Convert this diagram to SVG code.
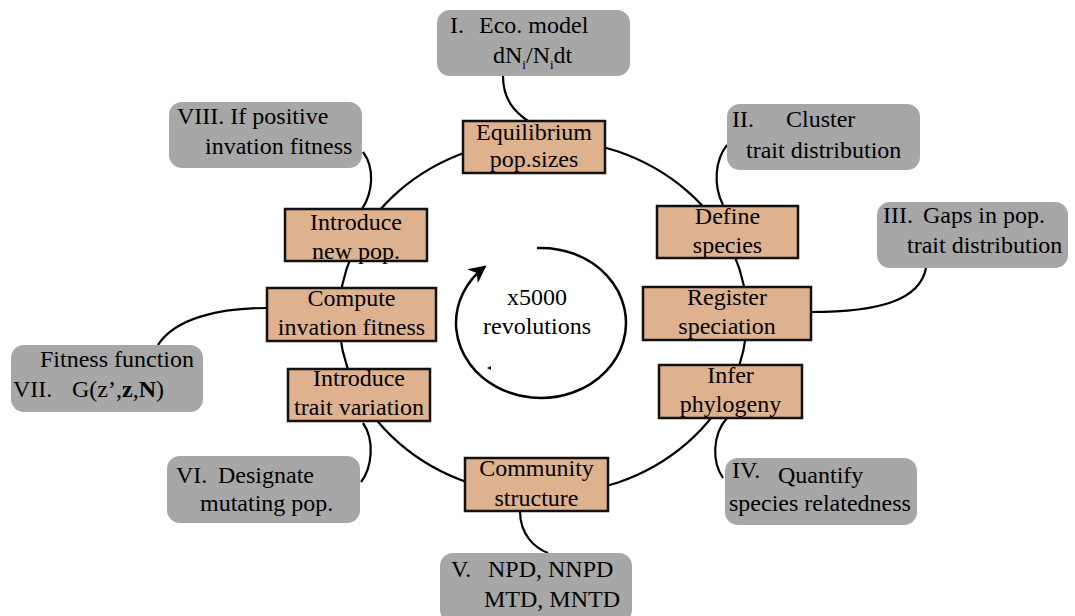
<svg xmlns="http://www.w3.org/2000/svg" width="1075" height="616" viewBox="0 0 1075 616">
<defs>
<style>
text{font-family:"Liberation Serif","Times New Roman",serif;font-size:24px;fill:#000}
.c{text-anchor:middle}
.step{fill:#deb18f;stroke:#111;stroke-width:2.5}
.note{fill:#a7a7a7;stroke:none}
.link{fill:none;stroke:#000;stroke-width:2.2}
.sub{font-size:13px}
.b{font-weight:bold}
</style>
<marker id="ah" viewBox="0 0 10 10" refX="9" refY="5" markerWidth="7" markerHeight="7" orient="auto" markerUnits="strokeWidth">
<path d="M0,0 L10,5 L0,10 L3,5 Z" fill="#000"/>
</marker>
</defs>
<rect width="1075" height="616" fill="#fff"/>

<g id="connectors">
<ellipse cx="543" cy="317" rx="204" ry="178" class="link"/>
<path class="link" d="M503,76 C503,100 515,112 528,121"/>
<path class="link" d="M727,145 C715,160 713,185 723,205"/>
<path class="link" d="M926,268 C920,300 880,312 811,312"/>
<path class="link" d="M727,418 C712,435 712,462 723,478"/>
<path class="link" d="M520,511 C520,535 535,548 548,553"/>
<path class="link" d="M363,423 C375,440 372,468 361,482"/>
<path class="link" d="M158,345 C175,318 220,308 267,308"/>
<path class="link" d="M363,152 C375,168 373,192 362,209"/>
</g>

<g id="cycle">
<path d="M537,248 A85,75 0 1 1 485,266.5" fill="none" stroke="#000" stroke-width="2.5" marker-end="url(#ah)"/>
<polygon points="487,368 491,366 491,370" fill="#000"/>
<text class="c" x="537" y="305">x5000</text>
<text class="c" x="537" y="334">revolutions</text>
</g>

<g id="n-equilibrium"><rect class="step" x="463" y="121" width="142" height="52"/><text class="c" x="534" y="140">Equilibrium</text><text class="c" x="534" y="167">pop.sizes</text></g>
<g id="n-define"><rect class="step" x="657" y="206" width="141" height="52"/><text class="c" x="727.5" y="224">Define</text><text class="c" x="727.5" y="253">species</text></g>
<g id="n-register"><rect class="step" x="643" y="287" width="168" height="53"/><text class="c" x="727" y="305">Register</text><text class="c" x="727" y="334">speciation</text></g>
<g id="n-infer"><rect class="step" x="659" y="365" width="143" height="53"/><text class="c" x="730.5" y="383">Infer</text><text class="c" x="730.5" y="412">phylogeny</text></g>
<g id="n-community"><rect class="step" x="465" y="458" width="143" height="53"/><text class="c" x="536.5" y="476">Community</text><text class="c" x="536.5" y="506">structure</text></g>
<g id="n-trait"><rect class="step" x="288" y="369" width="142" height="52"/><text class="c" x="359" y="386">Introduce</text><text class="c" x="359" y="415">trait variation</text></g>
<g id="n-compute"><rect class="step" x="267" y="288" width="169" height="53"/><text class="c" x="351.5" y="306">Compute</text><text class="c" x="351.5" y="335">invation fitness</text></g>
<g id="n-newpop"><rect class="step" x="285" y="209" width="142" height="52"/><text class="c" x="356" y="230">Introduce</text><text class="c" x="356" y="259">new pop.</text></g>

<g id="note-I"><rect class="note" x="437" y="10" width="193" height="66" rx="13"/><text x="450" y="33">I.</text><text x="479" y="33">Eco. model</text><text x="493" y="63">dN<tspan class="sub" dy="6">i</tspan><tspan dy="-6">/N</tspan><tspan class="sub" dy="6">i</tspan><tspan dy="-6">dt</tspan></text></g>
<g id="note-II"><rect class="note" x="727" y="104" width="193" height="66" rx="13"/><text x="732" y="127">II.</text><text x="786" y="127">Cluster</text><text x="746" y="158">trait distribution</text></g>
<g id="note-III"><rect class="note" x="877" y="202" width="191" height="66" rx="13"/><text x="883" y="223">III.</text><text x="923" y="223">Gaps in pop.</text><text x="907" y="253">trait distribution</text></g>
<g id="note-IV"><rect class="note" x="725" y="458" width="192" height="67" rx="13"/><text x="732" y="478">IV.</text><text x="778" y="483">Quantify</text><text x="729" y="511">species relatedness</text></g>
<g id="note-V"><rect class="note" x="440" y="553" width="192" height="70" rx="13"/><text x="451" y="577">V.</text><text x="488" y="577">NPD, NNPD</text><text x="484" y="607">MTD, MNTD</text></g>
<g id="note-VI"><rect class="note" x="167" y="456" width="193" height="67" rx="13"/><text x="176" y="483">VI.</text><text x="218" y="483">Designate</text><text x="200" y="511">mutating pop.</text></g>
<g id="note-VII"><rect class="note" x="11" y="345" width="192" height="67" rx="13"/><text x="40" y="367">Fitness function</text><text x="13" y="397">VII.</text><text x="72" y="397">G(z’,<tspan class="b">z</tspan>,<tspan class="b">N</tspan>)</text></g>
<g id="note-VIII"><rect class="note" x="169" y="102" width="193" height="66" rx="13"/><text x="177" y="124">VIII. If positive</text><text x="205" y="154">invation fitness</text></g>
</svg>
